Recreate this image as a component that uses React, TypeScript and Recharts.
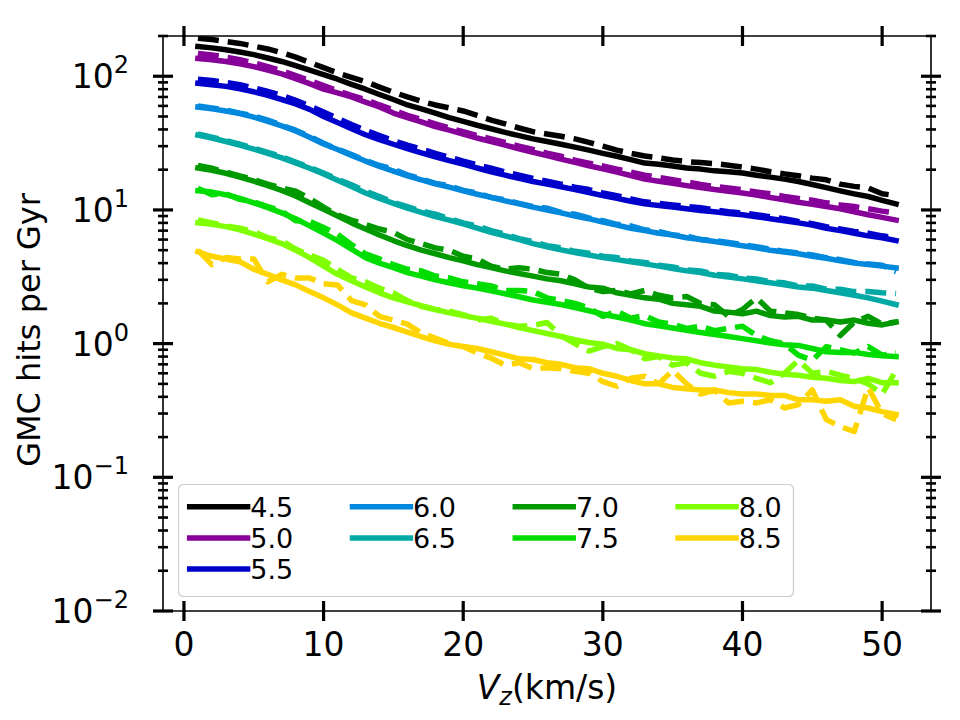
import React from 'react';
import { LineChart, Line, XAxis, YAxis, Legend } from 'recharts';

const FONT = '"DejaVu Sans", sans-serif';

const VZ = [1,2,3,4,5,6,7,8,9,10,11,12,13,14,15,16,17,18,19,20,21,22,23,24,25,26,27,28,29,30,31,32,33,34,35,36,37,38,39,40,41,42,43,44,45,46,47,48,49,50,51];

const LABELS = ['4.5','5.0','5.5','6.0','6.5','7.0','7.5','8.0','8.5'];
const COLORS = ['#000000','#87009a','#0000cc','#0088dd','#00a9a4','#009900','#00dd00','#80ff00','#ffd500'];

const S45 = [167,163,158,152,145,137,129,120,111,103,95,87,80,73,67,61,57,53,49,46,43,40.5,38,36,34,32.5,31,29.5,28,26.5,25.2,23.8,22.4,22.0,21.3,20.6,20.2,19.6,19.3,18.9,18.2,17.6,17.0,16.3,15.5,14.7,13.9,13.2,12.6,11.8,11.1];
const D45 = [192,188,182,176,168,160,150,139,127,116,106,98,91,83,76,70,65,61,58,55,51,47,44,41,38.5,37,35.6,34,32,30,28,26.5,25.3,24.5,23.6,23.0,22.6,22.2,21.6,20.9,20.2,19.3,18.6,18.0,17.3,16.8,15.6,15.0,14.6,13.2,12.8];
const S50 = [136,133,129,124,118,111,104,96,88,80,75,70,64,59,53,49,45.5,42,39.5,36.9,34.5,32.5,30.5,28.7,27,25.5,24,22.7,21.4,20.3,19.2,18.1,17.0,16.4,15.8,15.2,14.7,14.2,13.8,13.4,12.9,12.4,11.9,11.4,11.0,10.6,10.2,9.7,9.2,8.8,8.4];
const D50 = [148,144,139,133,126,118,110,101,93,85,78,72,67,61,56,51,47.5,44,41,38.5,36,34,32,30,28.3,26.6,25.2,23.6,22.4,21.3,20.2,19.2,18.2,17.5,16.8,16.2,15.5,15.0,14.6,14.2,13.6,13.2,12.6,12.2,11.8,11.3,10.9,10.6,10.2,9.8,9.5];
const S55 = [88.7,86.5,84,80.5,76.5,72,67,62,56.5,50,45,40.5,36.5,33.5,31,28.7,26.7,25,23.4,22,20.6,19.3,18.2,17.2,16.3,15.6,14.9,14.2,13.5,12.8,12.2,11.6,11.1,10.8,10.5,10.2,9.9,9.7,9.4,9.2,8.9,8.6,8.3,8.0,7.7,7.3,7.0,6.7,6.4,6.2,5.9];
const D55 = [95,93,90,86.5,82,77,72,66,60,54,48.5,43.5,39.5,36,33,30.5,28.5,26.5,24.8,23.2,21.8,20.5,19.2,18.2,17.2,16.4,15.6,14.8,14.2,13.4,12.8,12.1,11.5,11.2,10.9,10.6,10.4,10.0,9.7,9.5,9.2,8.9,8.6,8.2,7.9,7.5,7.2,6.9,6.7,6.4,6.2];
const S60 = [58.8,57,55,52.5,49.5,46,42.5,39,35,31.1,28.3,25.6,23.2,21.2,19.5,18,16.8,15.7,14.8,13.9,13.1,12.4,11.7,11.1,10.5,10.0,9.5,9.0,8.6,8.1,7.7,7.3,7.0,6.7,6.5,6.2,6.0,5.8,5.6,5.4,5.2,5.0,4.85,4.7,4.5,4.35,4.16,4.0,3.9,3.8,3.69];
const D60 = [60,58,56,53,50.5,47,43,39.5,35.5,31.5,28.5,26,23.5,21.5,20.2,18.3,17.1,15.8,15.2,14.0,13.4,12.4,11.9,11.2,10.6,10.3,9.6,9.3,8.7,8.3,7.8,7.6,7.1,6.9,6.5,6.4,6.0,5.9,5.7,5.5,5.3,5.1,4.9,4.75,4.6,4.4,4.25,4.05,3.95,3.85,3.45];
const S65 = [36.3,34.5,32.5,30.5,28.5,26.5,24.5,22.5,20.5,18.6,16.7,15.0,13.4,12.2,11.2,10.3,9.6,8.9,8.4,7.87,7.3,6.8,6.4,6.0,5.6,5.3,5.03,4.8,4.6,4.4,4.25,4.1,3.95,3.8,3.65,3.5,3.4,3.25,3.15,3.05,2.95,2.85,2.75,2.65,2.6,2.5,2.4,2.3,2.2,2.08,1.96];
const D65 = [37,35,33,31,29,27,25,22.8,20.8,18.9,17.0,15.4,13.8,12.6,11.4,10.6,9.8,9.3,8.6,8.0,7.6,7.0,6.6,6.1,5.8,5.4,5.2,4.9,4.75,4.5,4.4,4.15,4.05,3.85,3.75,3.55,3.5,3.3,3.25,3.1,3.05,2.9,2.85,2.7,2.7,2.55,2.55,2.45,2.45,2.4,2.37];
const S70 = [20.6,19.8,18.8,17.6,16.4,15.2,14.0,12.7,11.3,10.1,9.0,8.0,7.2,6.5,5.9,5.4,5.0,4.7,4.4,4.16,3.9,3.7,3.5,3.35,3.2,3.05,2.95,2.8,2.65,2.6,2.4,2.3,2.2,2.15,2.0,1.95,1.9,1.75,1.72,1.67,1.75,1.62,1.58,1.6,1.5,1.5,1.45,1.5,1.42,1.38,1.45];
const D70 = [21.5,20.5,19.2,18.0,16.8,15.6,14.6,13.8,12.2,10.5,9.2,8.4,7.8,7.2,6.8,6.0,5.6,5.2,5.0,4.5,4.3,3.8,3.6,3.7,3.6,3.4,3.3,3.0,2.6,2.45,2.5,2.35,2.5,2.3,2.2,2.25,2.0,1.95,1.6,1.8,2.2,1.75,1.7,1.65,1.55,1.5,1.15,1.45,1.6,1.4,1.45];
const S75 = [13.9,13.6,13.0,12.2,11.3,10.4,9.5,8.6,7.6,6.7,5.9,5.1,4.4,4.0,3.7,3.4,3.2,3.0,2.85,2.71,2.6,2.48,2.36,2.24,2.12,2.04,1.96,1.86,1.76,1.66,1.58,1.5,1.41,1.36,1.31,1.26,1.21,1.17,1.13,1.09,1.05,1.01,0.98,0.97,0.92,0.87,0.86,0.86,0.83,0.81,0.80];
const D75 = [14.5,13.0,13.2,12.0,11.5,10.6,9.8,8.3,8.2,7.4,6.6,5.5,4.7,4.3,3.9,3.6,3.5,3.2,3.1,2.9,2.8,2.7,2.5,2.5,2.45,2.2,2.1,2.0,1.85,1.6,1.75,1.55,1.62,1.45,1.4,1.3,1.35,1.25,1.3,1.35,1.15,1.05,1.0,0.82,0.75,0.95,0.9,0.85,0.95,0.82,0.85];
const S80 = [8.0,7.8,7.5,7.1,6.6,6.1,5.6,5.0,4.4,3.8,3.3,2.95,2.65,2.4,2.2,2.05,1.92,1.8,1.7,1.62,1.55,1.47,1.4,1.32,1.25,1.19,1.13,1.07,1.02,0.99,0.92,0.9,0.84,0.81,0.78,0.77,0.72,0.69,0.67,0.65,0.64,0.61,0.59,0.58,0.56,0.55,0.53,0.52,0.55,0.51,0.51];
const D80 = [8.4,8.0,7.6,7.3,6.9,6.2,5.9,5.1,4.6,4.2,3.6,3.1,2.9,2.6,2.4,2.1,1.9,1.8,1.75,1.65,1.5,1.55,1.4,1.35,1.37,1.44,1.15,1.0,0.88,0.95,1.0,0.9,0.77,0.8,0.69,0.72,0.6,0.57,0.62,0.6,0.55,0.51,0.6,0.75,0.6,0.62,0.58,0.55,0.5,0.42,0.63];
const S85 = [4.86,4.5,4.3,4.1,3.6,3.3,3.0,2.75,2.45,2.2,1.95,1.7,1.55,1.42,1.32,1.22,1.13,1.05,0.99,0.95,0.92,0.87,0.82,0.77,0.76,0.72,0.70,0.66,0.65,0.6,0.57,0.53,0.50,0.5,0.47,0.46,0.45,0.45,0.43,0.42,0.42,0.41,0.41,0.38,0.38,0.37,0.38,0.34,0.33,0.31,0.295];
const D85 = [5.0,3.9,4.4,4.3,4.3,2.9,3.3,3.1,3.1,2.8,2.75,2.1,1.95,1.6,1.5,1.4,1.2,1.1,1.0,0.95,0.85,0.78,0.69,0.72,0.65,0.66,0.65,0.62,0.6,0.52,0.48,0.55,0.57,0.5,0.63,0.5,0.42,0.45,0.36,0.37,0.36,0.38,0.33,0.35,0.45,0.27,0.24,0.22,0.47,0.3,0.27];

const SOLID = [S45, S50, S55, S60, S65, S70, S75, S80, S85];
const DASHED = [D45, D50, D55, D60, D65, D70, D75, D80, D85];

const X_TICKS = [0, 10, 20, 30, 40, 50];
const Y_MAJOR = [0.01, 0.1, 1, 10, 100];
const Y_MINOR = [0.02,0.03,0.04,0.05,0.06,0.07,0.08,0.09,0.2,0.3,0.4,0.5,0.6,0.7,0.8,0.9,2,3,4,5,6,7,8,9,20,30,40,50,60,70,80,90,200];
const Y_TICKS = [...Y_MAJOR, ...Y_MINOR].sort((a, b) => a - b);
const Y_EXP: Record<string, string> = { '0.01': '\u22122', '0.1': '\u22121', '1': '0', '10': '1', '100': '2' };

const data = VZ.map((v, i) => {
  const row: Record<string, number> = { vz: v };
  LABELS.forEach((_, k) => {
    row['s' + k] = SOLID[k][i];
    row['d' + k] = DASHED[k][i];
  });
  return row;
});

const isMajor = (v: number) => Math.abs(Math.log10(v) - Math.round(Math.log10(v))) < 1e-6;

const MAJOR_W = 3.2;
const MINOR_W = 2.6;

const BottomTick = (props: any) => {
  const { x, y, payload } = props;
  return (
    <g>
      <line x1={x} x2={x} y1={y - 10} y2={y + 10} stroke="#000" strokeWidth={MAJOR_W} />
      <text x={x} y={y + 45} textAnchor="middle" fontSize={33} fontFamily={FONT} fill="#000">{payload.value}</text>
    </g>
  );
};

const TopTick = (props: any) => {
  const { x, y } = props;
  return <line x1={x} x2={x} y1={y - 10} y2={y + 10} stroke="#000" strokeWidth={MAJOR_W} />;
};

const LeftTick = (props: any) => {
  const { x, y, payload } = props;
  const v = payload.value;
  if (isMajor(v)) {
    return (
      <g>
        <line x1={x - 10} x2={x + 10} y1={y} y2={y} stroke="#000" strokeWidth={MAJOR_W} />
        <text x={x - 34} y={y + 12} textAnchor="end" fontSize={33} fontFamily={FONT} fill="#000">
          <tspan>10</tspan>
          <tspan dy={-15} fontSize={24}>{Y_EXP[String(v)]}</tspan>
        </text>
      </g>
    );
  }
  return <line x1={x - 5} x2={x + 5} y1={y} y2={y} stroke="#000" strokeWidth={MINOR_W} />;
};

const RightTick = (props: any) => {
  const { x, y, payload } = props;
  const v = payload.value;
  if (isMajor(v)) {
    return <line x1={x - 10} x2={x + 10} y1={y} y2={y} stroke="#000" strokeWidth={MAJOR_W} />;
  }
  return <line x1={x - 5} x2={x + 5} y1={y} y2={y} stroke="#000" strokeWidth={MINOR_W} />;
};

const XLabel = () => (
  <text x={539} y={691} textAnchor="middle" fontSize={33} fontFamily={FONT} fill="#000">
    <tspan fontStyle="italic">V</tspan>
    <tspan fontStyle="italic" fontSize={24} dy={6}>z</tspan>
    <tspan dy={-6}>(km/s)</tspan>
  </text>
);

const YLabel = () => (
  <text x={32} y={322} transform="rotate(-90, 32, 322)" textAnchor="middle" fontSize={32} fontFamily={FONT} fill="#000">
    GMC hits per Gyr
  </text>
);

const LEGEND_ORDER = [[0, 1, 2], [3, 4], [5, 6], [7, 8]];

const LegendBox = () => (
  <svg width={617} height={114} style={{ display: 'block' }}>
    <rect x={0.5} y={0.5} width={615} height={112} rx={5} ry={5} fill="#ffffff" stroke="#cccccc" strokeWidth={1.2} />
    {LEGEND_ORDER.map((col, c) =>
      col.map((k, r) => {
        const x1 = 9 + c * 162.8;
        const x2 = x1 + 63.3;
        const y = 22.7 + r * 31.2;
        return (
          <g key={k}>
            <line x1={x1 + 2.7} x2={x2 - 2.7} y1={y} y2={y} stroke={COLORS[k]} strokeWidth={5.5} strokeLinecap="square" />
            <text x={x2} y={y + 10} fontSize={27} fontFamily={FONT} fill="#000">{LABELS[k]}</text>
          </g>
        );
      })
    )}
  </svg>
);

const axisLine = { stroke: '#000', strokeWidth: 1.6 };

export default function App() {
  const lines: React.ReactNode[] = [];
  LABELS.forEach((lab, k) => {
    lines.push(
      <Line key={'s' + k} dataKey={'s' + k} name={lab} stroke={COLORS[k]} strokeWidth={5.5} dot={false}
        isAnimationActive={false} strokeLinejoin="round" strokeLinecap="square" type="linear" />
    );
    lines.push(
      <Line key={'d' + k} dataKey={'d' + k} name={lab + ' dashed'} legendType="none" stroke={COLORS[k]} strokeWidth={5.5} dot={false}
        isAnimationActive={false} strokeLinejoin="round" strokeLinecap="butt" strokeDasharray="21 9" type="linear" />
    );
  });
  return (
    <div style={{ width: 944, height: 704, fontFamily: FONT }}>
      <LineChart width={944} height={704} data={data} margin={{ top: 27, right: 20, bottom: 41, left: 0 }}>
        <XAxis dataKey="vz" type="number" domain={[-1.5, 53.5]} ticks={X_TICKS} interval={0}
          tick={<BottomTick />} tickLine={false} tickSize={0} tickMargin={0} height={60}
          axisLine={axisLine} allowDataOverflow label={<XLabel />} />
        <XAxis xAxisId="top" orientation="top" dataKey="vz" type="number" domain={[-1.5, 53.5]} ticks={X_TICKS} interval={0}
          tick={<TopTick />} tickLine={false} tickSize={0} tickMargin={0} height={1}
          axisLine={axisLine} allowDataOverflow />
        <YAxis type="number" scale="log" domain={[0.01, 200]} ticks={Y_TICKS} interval={0}
          tick={<LeftTick />} tickLine={false} tickSize={0} tickMargin={0} width={155}
          axisLine={axisLine} allowDataOverflow label={<YLabel />} />
        <YAxis yAxisId="right" orientation="right" type="number" scale="log" domain={[0.01, 200]} ticks={Y_TICKS} interval={0}
          tick={<RightTick />} tickLine={false} tickSize={0} tickMargin={0} width={1}
          axisLine={axisLine} allowDataOverflow />
        {lines}
        <Line xAxisId="top" yAxisId="right" dataKey="s0" stroke="none" strokeWidth={0} dot={false}
          activeDot={false} legendType="none" isAnimationActive={false} />
        <Legend layout="vertical" align="center" verticalAlign="middle" content={<LegendBox />}
          wrapperStyle={{ left: 169.7, top: 476, width: 617, height: 114 }} />
      </LineChart>
    </div>
  );
}
